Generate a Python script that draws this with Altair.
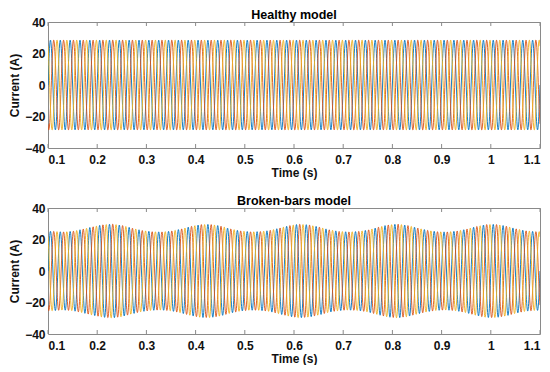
import altair as alt
import numpy as np
import pandas as pd

# ---- data ----
x_ticks = [0.1, 0.2, 0.3, 0.4, 0.5, 0.6, 0.7, 0.8, 0.9, 1.0, 1.1]
y_ticks = [-40, -20, 0, 20, 40]
phases = ["Phase A", "Phase B", "Phase C"]
phase_colors = ["#0072BD", "#D95319", "#EDB120"]
phase_shift_deg = [0, -120, 120]
supply_hz = 50

# peak amplitude envelope (A), read per supply cycle
healthy_env_t = [0.10, 0.30, 0.50, 0.70, 0.90, 1.10]
healthy_env_a = [28.5, 28.5, 28.5, 28.5, 28.5, 28.5]

broken_env_t = [0.11, 0.13, 0.15, 0.17, 0.19, 0.21, 0.23, 0.25, 0.27, 0.29,
                0.31, 0.33, 0.35, 0.37, 0.39, 0.41, 0.43, 0.45, 0.47, 0.49,
                0.51, 0.53, 0.55, 0.57, 0.59, 0.61, 0.63, 0.65, 0.67, 0.69,
                0.71, 0.73, 0.75, 0.77, 0.79, 0.81, 0.83, 0.85, 0.87, 0.89,
                0.91, 0.93, 0.95, 0.97, 0.99, 1.01, 1.03, 1.05, 1.07, 1.09]
broken_env_a = [25.2, 24.8, 25.2, 26.5, 28.0, 29.3, 29.8, 29.0, 27.3, 25.8,
                25.0, 24.8, 25.3, 26.6, 28.3, 29.5, 29.6, 28.6, 26.8, 25.5,
                24.9, 25.0, 25.7, 27.2, 28.8, 29.7, 29.3, 28.0, 26.3, 25.2,
                24.8, 25.1, 26.0, 27.7, 29.2, 29.8, 29.0, 27.4, 25.9, 25.0,
                24.8, 25.3, 26.5, 28.2, 29.5, 29.6, 28.6, 26.9, 25.6, 25.0]

FONT = "Liberation Sans"
BOX = "#8a8a8a"
W, H = 492, 126


def build_df(env_t, env_a):
    t = np.round(0.1 + np.arange(2001) * 0.0005, 5)
    amp = np.interp(t, env_t, env_a)
    frames = []
    for name, sh in zip(phases, phase_shift_deg):
        v = amp * np.sin(2 * np.pi * supply_hz * t + np.deg2rad(sh))
        frames.append(pd.DataFrame({"t": t, "i": np.round(v, 2), "phase": name}))
    return pd.concat(frames, ignore_index=True)


tick_df = pd.DataFrame({"tick": x_ticks})


def panel(title, env_t, env_a):
    df = build_df(env_t, env_a)
    xs = alt.Scale(domain=[0.1, 1.1], nice=False, zero=False)
    lines = alt.Chart(df).mark_line(strokeWidth=0.9, clip=True).encode(
        x=alt.X("t:Q", scale=xs,
                axis=alt.Axis(values=x_ticks, format="~g", title="Time (s)")),
        y=alt.Y("i:Q", scale=alt.Scale(domain=[-40, 40], nice=False),
                axis=alt.Axis(values=y_ticks, title="Current (A)")),
        color=alt.Color("phase:N", scale=alt.Scale(domain=phases, range=phase_colors),
                        legend=None),
    )
    top_ticks = alt.Chart(tick_df).mark_rule(color=BOX, strokeWidth=1).encode(
        x=alt.X("tick:Q", scale=xs), y=alt.value(0), y2=alt.value(4))
    bot_ticks = alt.Chart(tick_df).mark_rule(color=BOX, strokeWidth=1).encode(
        x=alt.X("tick:Q", scale=xs), y=alt.value(H - 4), y2=alt.value(H))
    return alt.layer(lines, top_ticks, bot_ticks).properties(
        width=W, height=H,
        title=alt.TitleParams(title, fontSize=12.5, fontWeight="bold", font=FONT,
                              color="#000000", offset=-5),
    )


chart = alt.vconcat(
    panel("Healthy model", healthy_env_t, healthy_env_a),
    panel("Broken-bars model", broken_env_t, broken_env_a),
    spacing=15,
).properties(padding=0).configure_view(
    stroke=BOX, strokeWidth=1
).configure_axis(
    domain=False, ticks=False, tickSize=0, grid=False,
    labelFont=FONT, labelFontSize=12, labelFontWeight="bold", labelColor="#111111",
    titleFont=FONT, titleFontSize=12, titleFontWeight="bold", titleColor="#111111",
).configure_axisX(
    labelPadding=6, titlePadding=2,
).configure_axisY(
    labelPadding=3, titlePadding=3,
)

chart.save("out.html", embed_options={"renderer": "svg", "actions": False})
